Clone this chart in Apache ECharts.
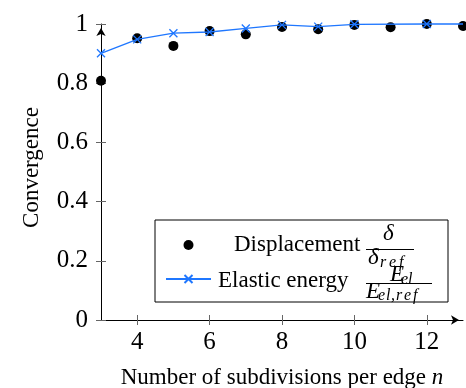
<!DOCTYPE html>
<html>
<head>
<meta charset="utf-8">
<script src="https://cdn.jsdelivr.net/npm/echarts@6/dist/echarts.min.js"></script>
<style>html,body{margin:0;padding:0;background:#fff}#c{width:466px;height:388px}</style>
</head>
<body>
<div id="c"></div>
<script>
const xValues = [3, 4, 5, 6, 7, 8, 9, 10, 11, 12, 13];
const displacement = [0.808, 0.952, 0.926, 0.976, 0.965, 0.990, 0.982, 0.997, 0.989, 1.000, 0.993];
const elasticEnergy = [0.901, 0.948, 0.969, 0.973, 0.985, 0.997, 0.991, 0.999, null, 1.000, 1.000];
const xTickValues = [4, 6, 8, 10, 12];
const yTickValues = [0, 0.2, 0.4, 0.6, 0.8, 1];
const seriesNames = ['Displacement', 'Elastic energy'];
const xAxisTitle = 'Number of subdivisions per edge ';
const xAxisVar = 'n';
const yAxisTitle = 'Convergence';

const FF = "'Liberation Serif', serif";
const BLUE = '#1f77ff';
const chart = echarts.init(document.getElementById('c'), null, {renderer: 'canvas'});

const rich = {};
let styleCount = 0;
function tok(text, o) {
  const name = 's' + (styleCount++);
  rich[name] = Object.assign({fontFamily: FF, color: '#000', fontSize: 23, lineHeight: 2}, o);
  return '{' + name + '|' + text + '}';
}
const IT = {fontStyle: 'italic'};
function sub(text, w, pt, lh) {
  return tok(text, Object.assign({fontStyle: 'italic', fontSize: 16, width: w, padding: [pt, 0, 0, 0]}, lh ? {lineHeight: lh} : {}));
}

const legendText = {};
legendText[seriesNames[0]] =
  tok(' ', {width: 167, lineHeight: 9}) + tok('δ', Object.assign({lineHeight: 9, padding: [0, 0, 18, 0]}, IT)) + '\n' +
  tok(' ', {width: 18}) + tok(seriesNames[0], {padding: [0, 0, 6, 0]}) + '\n' +
  tok(' ', {width: 150, lineHeight: 1}) + tok(' ', {width: 48, height: 1, lineHeight: 1, backgroundColor: '#000'}) + '\n' +
  tok(' ', {width: 152}) + tok('δ', Object.assign({width: 12, padding: [14, 0, 0, 0]}, IT)) +
  sub('r', 9, 23) + sub('e', 10, 23) + sub('f', 10, 23);
legendText[seriesNames[1]] =
  tok(' ', {width: 174, lineHeight: 9}) + tok('E', Object.assign({width: 11, lineHeight: 9, padding: [0, 0, 3, 0]}, IT)) +
  sub('e', 7, 6, 9) + sub('l', 6, 6, 9) + '\n' +
  tok(' ', {width: 2}) + tok(seriesNames[1], {padding: [0, 0, 2, 0]}) + '\n' +
  tok(' ', {width: 150, lineHeight: 1}) + tok(' ', {width: 66, height: 1, lineHeight: 1, backgroundColor: '#000'}) + '\n' +
  tok(' ', {width: 150}) + tok('E', Object.assign({width: 12, padding: [14, 0, 0, 0]}, IT)) +
  sub('e', 8, 22) + sub('l', 5, 22) + sub(',', 5, 22) + sub('r', 8, 22) + sub('e', 9, 22) + sub('f', 8, 22);

const dispData = xValues.map((x, i) => [x, displacement[i]]);
const energyPairs = xValues.map((x, i) => [x, elasticEnergy[i]]).filter(p => p[1] != null);
const energyData = energyPairs.map((p, i) => i === energyPairs.length - 1 ? {value: p, symbol: 'none'} : p);

const tickStyle = {color: '#666', width: 1};

const option = {
  animation: false,
  backgroundColor: '#fff',
  grid: {left: 101, right: 3, top: 24, bottom: 68, outerBoundsMode: 'none'},
  xAxis: [{
    type: 'value', min: 3, max: 13,
    axisLine: {show: true, onZero: false, symbol: ['none', 'arrow'], symbolSize: [7, 8], symbolOffset: [0, -4], lineStyle: {color: '#000', width: 1}},
    axisTick: {show: true, customValues: xTickValues, length: 5, inside: false, lineStyle: tickStyle},
    axisLabel: {customValues: xTickValues, margin: 10, fontSize: 25, fontFamily: FF, color: '#000'},
    splitLine: {show: false},
    name: '{r|' + xAxisTitle + '}{i|' + xAxisVar + '}',
    nameLocation: 'middle', nameGap: 46,
    nameTextStyle: {fontFamily: FF, fontSize: 23, color: '#000', rich: {
      r: {fontFamily: FF, fontSize: 23, color: '#000'},
      i: {fontFamily: FF, fontSize: 23, color: '#000', fontStyle: 'italic'}
    }}
  }, {
    type: 'value', min: 3, max: 13, position: 'bottom',
    axisLine: {show: false},
    axisTick: {show: true, customValues: xTickValues, length: 5, inside: true, lineStyle: tickStyle},
    axisLabel: {show: false}, splitLine: {show: false}
  }],
  yAxis: [{
    type: 'value', min: 0, max: 1,
    axisLine: {show: true, onZero: false, symbol: ['none', 'arrow'], symbolSize: [7, 8], symbolOffset: [0, -4], lineStyle: {color: '#000', width: 1}},
    axisTick: {show: true, customValues: yTickValues, length: 5, inside: false, lineStyle: tickStyle},
    axisLabel: {customValues: yTickValues, margin: 13, fontSize: 25, fontFamily: FF, color: '#000'},
    splitLine: {show: false},
    name: yAxisTitle, nameLocation: 'middle', nameGap: 58,
    nameTextStyle: {fontFamily: FF, fontSize: 23, color: '#000', padding: [0, 0, 0, 9]}
  }, {
    type: 'value', min: 0, max: 1, position: 'left',
    axisLine: {show: false},
    axisTick: {show: true, customValues: yTickValues, length: 5, inside: true, lineStyle: tickStyle},
    axisLabel: {show: false}, splitLine: {show: false}
  }],
  legend: {
    data: seriesNames, orient: 'vertical', left: 155, top: 220,
    padding: [2, 16, -2, 10], itemGap: -7, itemWidth: 45, itemHeight: 10,
    backgroundColor: '#fff', borderColor: '#000', borderWidth: 1, borderRadius: 0,
    selectedMode: false,
    textStyle: {fontFamily: FF, fontSize: 23, color: '#000', lineHeight: 2, rich: rich},
    formatter: name => legendText[name]
  },
  series: [{
    name: seriesNames[0], type: 'scatter', data: dispData,
    symbol: 'circle', symbolSize: 10, itemStyle: {color: '#000', opacity: 1}, z: 2
  }, {
    name: seriesNames[1], type: 'line', data: energyData, clip: false,
    symbol: 'path://M0,0L10,10M0,10L10,0', symbolSize: 8, showSymbol: true,
    itemStyle: {color: BLUE, borderColor: BLUE, borderWidth: 1.3},
    lineStyle: {color: BLUE, width: 1.3}, z: 3
  }]
};
chart.setOption(option);
</script>
</body>
</html>
